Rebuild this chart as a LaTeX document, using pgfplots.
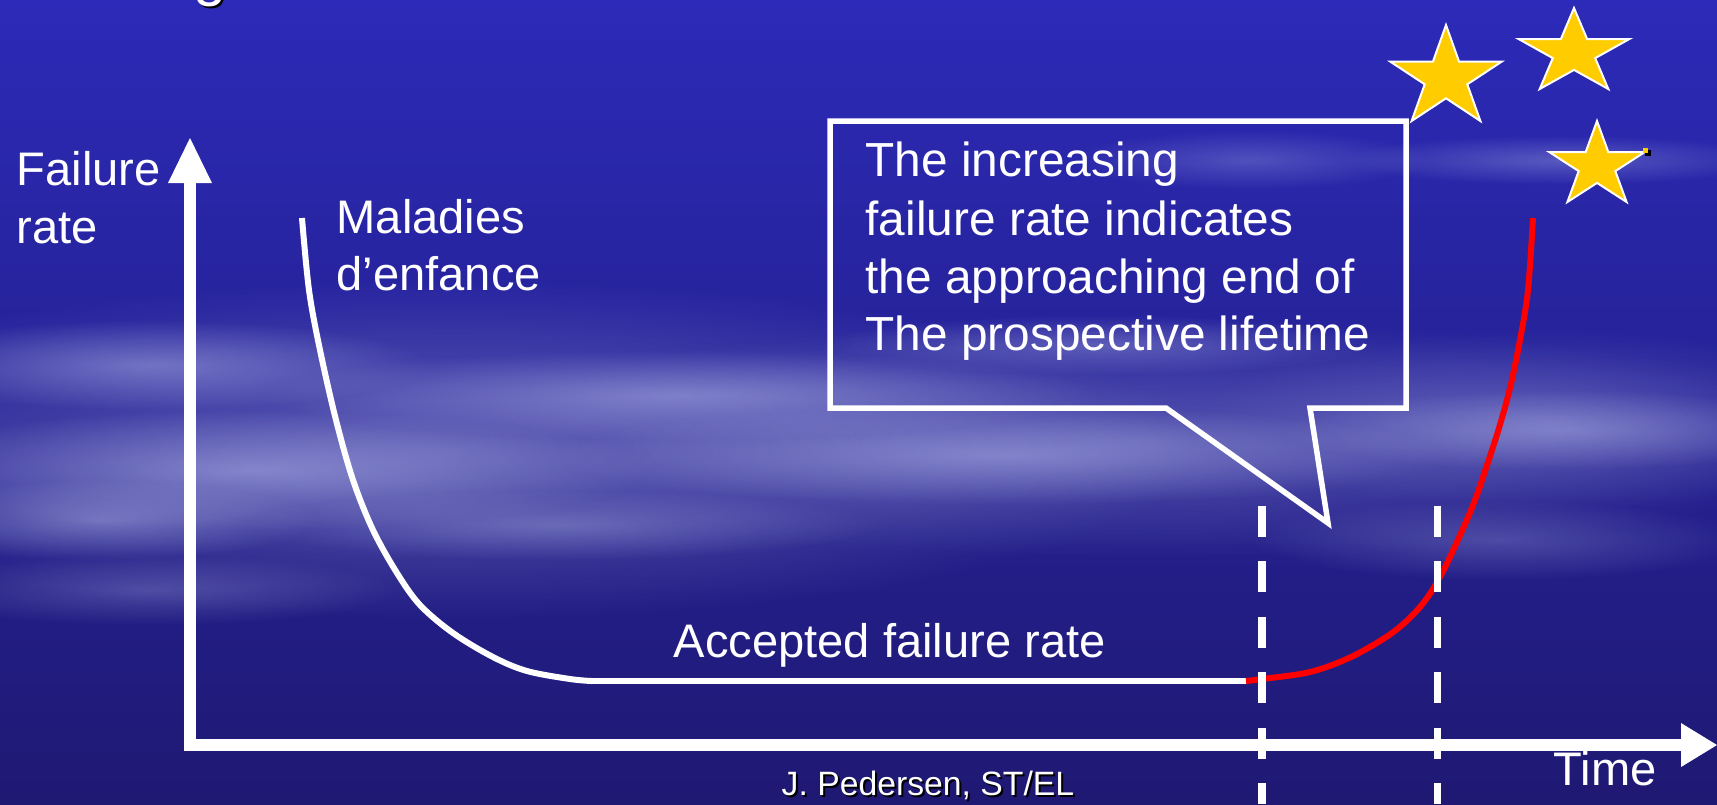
\documentclass[border=0pt]{standalone}
\usepackage{pgfplots}
\pgfplotsset{compat=1.18}
\usepackage{fontspec}
\setmainfont{Liberation Sans}
\usetikzlibrary{fadings}
\tikzfading[name=cloudfade, inner color=transparent!0, outer color=transparent!100]
\definecolor{bgtop}{RGB}{44,42,184}
\definecolor{bgmid}{RGB}{38,36,160}
\definecolor{bgbot}{RGB}{31,25,115}
\definecolor{cloud}{RGB}{200,205,245}
\definecolor{stargold}{RGB}{255,204,0}
\definecolor{curvered}{RGB}{255,0,0}
\begin{document}
\begin{tikzpicture}
\begin{axis}[width=171.7mm,height=80.4mm,scale only axis,
  xmin=0,xmax=1717,ymin=0,ymax=804,y dir=reverse,
  axis lines=none,clip=false]
\coordinate (bl) at (axis cs:0,804);
\coordinate (tr) at (axis cs:1717,0);
% background
\shade[top color=bgtop, middle color=bgmid, bottom color=bgbot] (axis cs:0,0) rectangle (axis cs:1717,804);
% clouds: broad band
\fill[cloud, opacity=0.35, path fading=cloudfade] (axis cs:450,450) ellipse [x radius=75mm, y radius=17mm];
\fill[cloud, opacity=0.30, path fading=cloudfade] (axis cs:1150,440) ellipse [x radius=70mm, y radius=12mm];
\fill[cloud, opacity=0.25, path fading=cloudfade] (axis cs:1550,420) ellipse [x radius=35mm, y radius=9mm];
% clouds: streaks
\fill[cloud, opacity=0.40, path fading=cloudfade] (axis cs:150,365) ellipse [x radius=28mm, y radius=4.5mm];
\fill[cloud, opacity=0.45, path fading=cloudfade] (axis cs:250,470) ellipse [x radius=40mm, y radius=6mm];
\fill[cloud, opacity=0.40, path fading=cloudfade] (axis cs:680,395) ellipse [x radius=42mm, y radius=4.5mm];
\fill[cloud, opacity=0.40, path fading=cloudfade] (axis cs:1000,455) ellipse [x radius=45mm, y radius=5mm];
\fill[cloud, opacity=0.35, path fading=cloudfade] (axis cs:1560,430) ellipse [x radius=28mm, y radius=4mm];
\fill[cloud, opacity=0.30, path fading=cloudfade] (axis cs:1560,160) ellipse [x radius=22mm, y radius=2.5mm];
\fill[cloud, opacity=0.25, path fading=cloudfade] (axis cs:1250,160) ellipse [x radius=18mm, y radius=3mm];
\fill[cloud, opacity=0.30, path fading=cloudfade] (axis cs:1100,345) ellipse [x radius=28mm, y radius=3mm];
\fill[cloud, opacity=0.25, path fading=cloudfade] (axis cs:150,590) ellipse [x radius=25mm, y radius=3.5mm];
\fill[cloud, opacity=0.40, path fading=cloudfade] (axis cs:100,520) ellipse [x radius=22mm, y radius=4mm];
\fill[cloud, opacity=0.30, path fading=cloudfade] (axis cs:560,525) ellipse [x radius=32mm, y radius=3.5mm];
\fill[cloud, opacity=0.25, path fading=cloudfade] (axis cs:1500,540) ellipse [x radius=25mm, y radius=4mm];
% title glyph remnant
\node[anchor=base west, inner sep=0, font=\fontsize{17pt}{20pt}\selectfont, text=black] at (axis cs:195,-4) {g};
\node[anchor=base west, inner sep=0, font=\fontsize{17pt}{20pt}\selectfont, text=white] at (axis cs:193,-6) {g};
% stars
\addplot[fill=stargold, draw=white, line width=0.2mm, line join=miter] coordinates {
 (1446,25) (1432.9,61.7) (1390.4,61.7) (1424.7,84.3) (1411.6,121.0)
 (1446,98.3) (1480.4,121.0) (1467.3,84.3) (1501.6,61.7) (1459.1,61.7)} -- cycle;
\addplot[fill=stargold, draw=white, line width=0.2mm, line join=miter] coordinates {
 (1574,8) (1560.9,39.0) (1518.6,39.0) (1552.8,58.1) (1539.7,89.0)
 (1574,69.9) (1608.3,89.0) (1595.2,58.1) (1629.4,39.0) (1587.1,39.0)} -- cycle;
\addplot[fill=stargold, draw=white, line width=0.2mm, line join=miter] coordinates {
 (1597,121) (1585.7,152.0) (1549.2,152.0) (1578.7,171.1) (1567.4,202.0)
 (1597,182.9) (1626.6,202.0) (1615.3,171.1) (1644.8,152.0) (1608.3,152.0)} -- cycle;
\addplot[fill=black, draw=none] coordinates {(1645,150)(1651,150)(1651,156)(1645,156)} -- cycle;
\addplot[fill=stargold, draw=none] coordinates {(1643,148)(1648,148)(1648,153)(1643,153)} -- cycle;
% callout box
\addplot[white, line width=0.55mm, line join=miter] coordinates {
 (830,121) (1406,121) (1406,408) (1310,408) (1328,523) (1166,408) (830,408)} -- cycle;
% curves
\addplot[white, line width=0.6mm, smooth, tension=0.55] coordinates {
 (302,218) (309,290) (320,350) (336,420) (353,480) (373,530) (397,573)
 (420,605) (453,633) (493,657) (527,671) (570,679) (592,681)};
\addplot[white, line width=0.6mm] coordinates {(590,681) (1247,681)};
\addplot[curvered, line width=0.6mm, smooth, tension=0.55] coordinates {
 (1246,681) (1262,679) (1310,672) (1351,657) (1392,633) (1420,607)
 (1440,577) (1461,533) (1475,500) (1487,465) (1499,428) (1510,388)
 (1520,340) (1528,290) (1533,218)};
% dashed lines
\addplot[white, line width=0.75mm, dash pattern=on 3.1mm off 2.45mm] coordinates {(1262,505.5) (1262,804)};
\addplot[white, line width=0.75mm, dash pattern=on 3.1mm off 2.45mm] coordinates {(1437.5,505.5) (1437.5,804)};
% axes
\addplot[white, line width=1.25mm] coordinates {(190,751.2) (190,182)};
\addplot[white, line width=1.2mm] coordinates {(183.8,745) (1682,745)};
\addplot[fill=white, draw=none] coordinates {(168,183) (190,138) (212,183)} -- cycle;
\addplot[fill=white, draw=none] coordinates {(1681,723) (1717,745) (1681,767)} -- cycle;
% texts
\tikzset{lbl/.style={anchor=base west, inner sep=0, text=white, font=\fontsize{13.4pt}{16pt}\selectfont}}
\node[lbl] at (axis cs:16,185) {Failure};
\node[lbl] at (axis cs:16,243) {rate};
\node[lbl] at (axis cs:336,233) {Maladies};
\node[lbl] at (axis cs:336,290) {d’enfance};
\node[lbl, font=\fontsize{13.6pt}{16pt}\selectfont] at (axis cs:865,176) {The increasing};
\node[lbl, font=\fontsize{13.6pt}{16pt}\selectfont] at (axis cs:865,235) {failure rate indicates};
\node[lbl, font=\fontsize{13.6pt}{16pt}\selectfont] at (axis cs:865,293) {the approaching end of};
\node[lbl, font=\fontsize{13.6pt}{16pt}\selectfont] at (axis cs:865,350) {The prospective lifetime};
\node[lbl] at (axis cs:673,657) {Accepted failure rate};
\node[lbl] at (axis cs:1553,785) {Time};
\node[anchor=base west, inner sep=0, text=black, font=\fontsize{9.6pt}{12pt}\selectfont] at (axis cs:783,797) {J. Pedersen, ST/EL};
\node[anchor=base west, inner sep=0, text=white, font=\fontsize{9.6pt}{12pt}\selectfont] at (axis cs:781,795) {J. Pedersen, ST/EL};
\end{axis}
\pgfresetboundingbox
\path[use as bounding box] (bl) rectangle (tr);
\end{tikzpicture}
\end{document}
